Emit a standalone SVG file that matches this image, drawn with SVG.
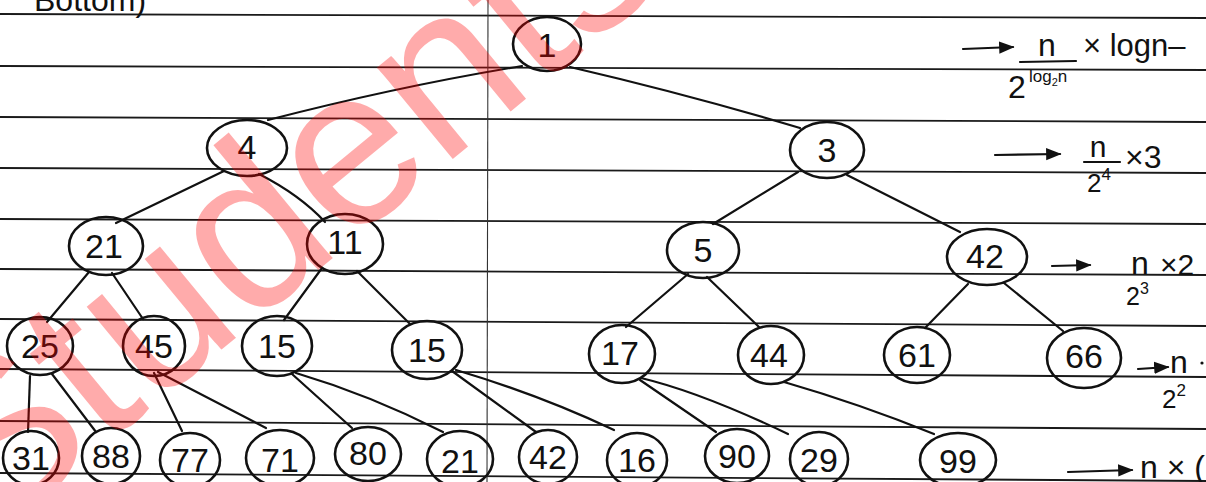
<svg xmlns="http://www.w3.org/2000/svg" width="1206" height="482" viewBox="0 0 1206 482">
  <defs>
    <style>
      .paper { fill: #ffffff; }
      .rule { stroke: #1a1a1a; stroke-width: 1.8; fill: none; }
      .margin { stroke: #333; stroke-width: 1.1; fill: none; }
      .edge { stroke: #111; stroke-width: 2.2; fill: none; stroke-linecap: round; }
      .node ellipse { stroke: #111; stroke-width: 2.6; fill: none; }
      .node text { font-family: "Liberation Sans", Arial, sans-serif; font-size: 34px; fill: #111; text-anchor: middle; dominant-baseline: central; }
      .note { font-family: "Liberation Sans", Arial, sans-serif; fill: #111; }
      .mark { font-family: "Liberation Sans", Arial, sans-serif; font-size: 225px; fill: #ff0000; fill-opacity: 0.33; }
    </style>
    <marker id="head" viewBox="0 0 10 10" refX="9" refY="5" markerWidth="7" markerHeight="7" orient="auto">
      <path d="M0,1 L10,5 L0,9 Z" fill="#111"/>
    </marker>
  </defs>

  <rect class="paper" x="0" y="0" width="1206" height="482"/>

  <!-- ruled notebook lines -->
  <g id="rules">
    <line class="rule" x1="0" y1="14" x2="1206" y2="18"/>
    <line class="rule" x1="0" y1="66" x2="1206" y2="70"/>
    <line class="rule" x1="0" y1="117" x2="1206" y2="122"/>
    <line class="rule" x1="0" y1="168" x2="1206" y2="173"/>
    <line class="rule" x1="0" y1="219" x2="1206" y2="224"/>
    <line class="rule" x1="0" y1="269" x2="1206" y2="275"/>
    <line class="rule" x1="0" y1="319" x2="1206" y2="326"/>
    <line class="rule" x1="0" y1="369" x2="1206" y2="377"/>
    <line class="rule" x1="0" y1="421" x2="1206" y2="429"/>
    <line class="rule" x1="0" y1="473" x2="1206" y2="481"/>
    <line class="margin" x1="488" y1="0" x2="487" y2="482"/>
  </g>

  <!-- heading cut off at the top edge -->
  <text class="note" x="34" y="11" font-size="32">Bottom)</text>

  <!-- connectors -->
  <g id="edges">
    <path class="edge" d="M522,66 Q400,86 268,120"/>
    <path class="edge" d="M570,67 Q690,95 800,128"/>
    <path class="edge" d="M224,171 L116,223"/>
    <path class="edge" d="M259,174 Q300,195 325,222"/>
    <path class="edge" d="M798,172 L713,224"/>
    <path class="edge" d="M847,175 L960,232"/>
    <path class="edge" d="M89,272 L47,322"/>
    <path class="edge" d="M112,273 L143,319"/>
    <path class="edge" d="M322,268 L284,320"/>
    <path class="edge" d="M357,271 L410,324"/>
    <path class="edge" d="M688,274 L626,327"/>
    <path class="edge" d="M707,277 L759,327"/>
    <path class="edge" d="M968,284 L925,328"/>
    <path class="edge" d="M1004,283 L1063,331"/>
    <path class="edge" d="M30,376 L28,432"/>
    <path class="edge" d="M52,374 L96,432"/>
    <path class="edge" d="M154,373 L182,431"/>
    <path class="edge" d="M158,372 L266,428"/>
    <path class="edge" d="M292,374 L352,428"/>
    <path class="edge" d="M296,373 Q370,395 443,432"/>
    <path class="edge" d="M452,371 L536,432"/>
    <path class="edge" d="M456,370 Q540,395 614,430"/>
    <path class="edge" d="M640,380 L716,432"/>
    <path class="edge" d="M641,378 Q700,392 788,434"/>
    <path class="edge" d="M784,382 Q860,404 934,434"/>
  </g>

  <!-- level 0 -->
  <g id="n1" class="node"><ellipse cx="547" cy="44" rx="34" ry="27"/><text x="547" y="45">1</text></g>

  <!-- level 1 -->
  <g id="n4" class="node"><ellipse cx="247" cy="148" rx="40" ry="28"/><text x="247" y="147">4</text></g>
  <g id="n3" class="node"><ellipse cx="827" cy="150" rx="37" ry="28"/><text x="827" y="150">3</text></g>

  <!-- level 2 -->
  <g id="n21a" class="node"><ellipse cx="106" cy="246" rx="37" ry="29"/><text x="104" y="246">21</text></g>
  <g id="n11" class="node"><ellipse cx="345" cy="244" rx="38" ry="30"/><text x="345" y="242">11</text></g>
  <g id="n5" class="node"><ellipse cx="703" cy="250" rx="36" ry="28"/><text x="703" y="250">5</text></g>
  <g id="n42a" class="node"><ellipse cx="987" cy="257" rx="40" ry="28"/><text x="985" y="256">42</text></g>

  <!-- level 3 -->
  <g id="n25" class="node"><ellipse cx="40" cy="346" rx="33" ry="29"/><text x="40" y="346">25</text></g>
  <g id="n45" class="node"><ellipse cx="154" cy="346" rx="31" ry="30"/><text x="154" y="346">45</text></g>
  <g id="n15a" class="node"><ellipse cx="277" cy="346" rx="35" ry="30"/><text x="277" y="346">15</text></g>
  <g id="n15b" class="node"><ellipse cx="427" cy="350" rx="35" ry="29"/><text x="427" y="350">15</text></g>
  <g id="n17" class="node"><ellipse cx="622" cy="354" rx="33" ry="29"/><text x="620" y="353">17</text></g>
  <g id="n44" class="node"><ellipse cx="771" cy="355" rx="33" ry="29"/><text x="769" y="355">44</text></g>
  <g id="n61" class="node"><ellipse cx="917" cy="355" rx="33" ry="28"/><text x="917" y="355">61</text></g>
  <g id="n66" class="node"><ellipse cx="1084" cy="358" rx="37" ry="30"/><text x="1084" y="356">66</text></g>

  <!-- level 4 -->
  <g id="n31" class="node"><ellipse cx="31" cy="458" rx="28" ry="27"/><text x="31" y="458">31</text></g>
  <g id="n88" class="node"><ellipse cx="111" cy="456" rx="29" ry="28"/><text x="111" y="456">88</text></g>
  <g id="n77" class="node"><ellipse cx="190" cy="460" rx="30" ry="27"/><text x="190" y="460">77</text></g>
  <g id="n71" class="node"><ellipse cx="280" cy="458" rx="34" ry="28"/><text x="280" y="460">71</text></g>
  <g id="n80" class="node"><ellipse cx="368" cy="454" rx="33" ry="27"/><text x="368" y="453">80</text></g>
  <g id="n21b" class="node"><ellipse cx="460" cy="459" rx="33" ry="28"/><text x="460" y="461">21</text></g>
  <g id="n42b" class="node"><ellipse cx="548" cy="457" rx="29" ry="27"/><text x="548" y="457">42</text></g>
  <g id="n16" class="node"><ellipse cx="637" cy="460" rx="30" ry="27"/><text x="637" y="460">16</text></g>
  <g id="n90" class="node"><ellipse cx="737" cy="456" rx="32" ry="27"/><text x="737" y="456">90</text></g>
  <g id="n29" class="node"><ellipse cx="819" cy="459" rx="29" ry="27"/><text x="819" y="460">29</text></g>
  <g id="n99" class="node"><ellipse cx="958" cy="460" rx="38" ry="27"/><text x="958" y="461">99</text></g>

  <!-- per-level cost notes -->
  <g id="notes">
    <!-- level 0 -->
    <line class="edge" x1="963" y1="49" x2="1013" y2="47" marker-end="url(#head)"/>
    <text class="note" x="1047" y="56" font-size="32" text-anchor="middle">n</text>
    <line class="edge" x1="1020" y1="62" x2="1076" y2="61"/>
    <text class="note" x="1083" y="56" font-size="31">× logn–</text>
    <text class="note" x="1008" y="98" font-size="32">2</text>
    <text class="note" x="1029" y="82" font-size="17">log<tspan font-size="11" dy="4">2</tspan><tspan dy="-4">n</tspan></text>

    <!-- level 1 -->
    <line class="edge" x1="995" y1="155" x2="1060" y2="154" marker-end="url(#head)"/>
    <text class="note" x="1098" y="157" font-size="30" text-anchor="middle">n</text>
    <line class="edge" x1="1084" y1="162" x2="1120" y2="162"/>
    <text class="note" x="1125" y="168" font-size="32">×3</text>
    <text class="note" x="1087" y="192" font-size="26">2<tspan font-size="17" dy="-12">4</tspan></text>

    <!-- level 2 -->
    <line class="edge" x1="1052" y1="266" x2="1090" y2="265" marker-end="url(#head)"/>
    <text class="note" x="1140" y="274" font-size="32" text-anchor="middle">n</text>
    <text class="note" x="1160" y="275" font-size="30">×2</text>
    <text class="note" x="1126" y="305" font-size="25">2<tspan font-size="16" dy="-11">3</tspan></text>

    <!-- level 3 -->
    <line class="edge" x1="1138" y1="369" x2="1168" y2="367" marker-end="url(#head)"/>
    <text class="note" x="1170" y="373" font-size="32">n</text>
    <circle cx="1202" cy="363" r="1.6" fill="#111"/>
    <text class="note" x="1162" y="408" font-size="26">2<tspan font-size="17" dy="-12">2</tspan></text>

    <!-- level 4 -->
    <line class="edge" x1="1068" y1="472" x2="1132" y2="470" marker-end="url(#head)"/>
    <text class="note" x="1140" y="478" font-size="32">n × (</text>
  </g>

  <!-- watermark over the page -->
  <text class="mark" transform="translate(-13,543) rotate(-39.5)">Students</text>
</svg>
